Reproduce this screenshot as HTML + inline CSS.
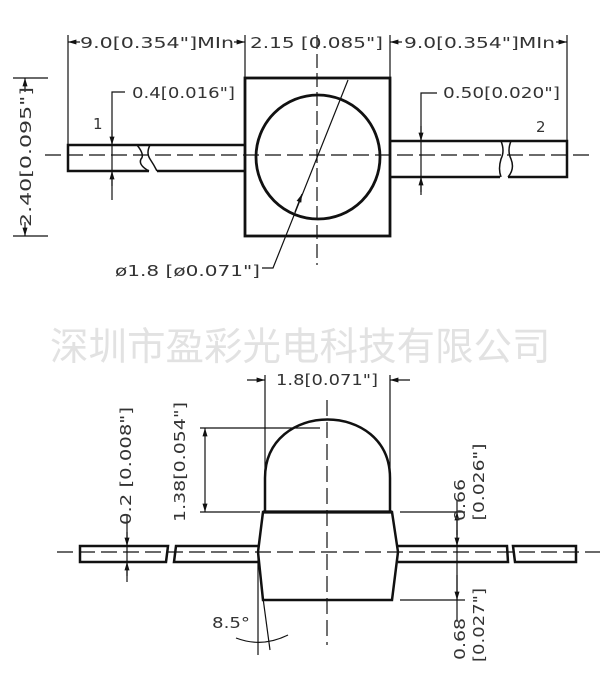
<!DOCTYPE html>
<html><head><meta charset="utf-8"><style>
html,body{margin:0;padding:0;background:#fff;width:604px;height:677px;overflow:hidden}
svg{display:block}
text{font-family:"DejaVu Sans","Liberation Sans",sans-serif;fill:#333}
</style></head><body>
<svg width="604" height="677" viewBox="0 0 604 677" xmlns="http://www.w3.org/2000/svg">
<defs>
<marker id="a" viewBox="0 0 10 10" refX="10" refY="5" markerWidth="7" markerHeight="7" orient="auto-start-reverse"><path d="M0,2 L10,5 L0,8 z" fill="#111"/></marker>
</defs>
<g stroke="#111" fill="none">
<line x1="45" y1="155" x2="590" y2="155" stroke-width="1.2" stroke-dasharray="16,6"/>
<line x1="317" y1="35" x2="317" y2="265" stroke-width="1.2" stroke-dasharray="14,5"/>
<rect x="245" y="78" width="145" height="158" stroke-width="2.8"/>
<circle cx="318" cy="157" r="62" stroke-width="2.8"/>
<path d="M245,145 H68 V171 H149 M157,171 H245" stroke-width="2.5"/>
<path d="M137,145 q8,10 4,14 q-3,6 8,12 M150,145 q-4,8 0,14 q4,6 7,12" stroke-width="1.5"/>
<path d="M390,141 H567 V177 H508 M500,177 H390" stroke-width="2.5"/>
<path d="M501,141 q4,10 0,18 q-3,10 0,18 M511,141 q-4,10 0,18 q4,10 -3,18" stroke-width="1.5"/>
<line x1="68" y1="35" x2="68" y2="145" stroke-width="1.2"/>
<line x1="567" y1="35" x2="567" y2="141" stroke-width="1.2"/>
<line x1="245" y1="35" x2="245" y2="78" stroke-width="1.2"/>
<line x1="390" y1="35" x2="390" y2="78" stroke-width="1.2"/>
<line x1="68" y1="42" x2="80" y2="42" stroke-width="1.2" marker-start="url(#a)"/>
<line x1="234" y1="42" x2="245" y2="42" stroke-width="1.2" marker-end="url(#a)"/>
<line x1="390" y1="42" x2="402" y2="42" stroke-width="1.2" marker-start="url(#a)"/>
<line x1="556" y1="42" x2="567" y2="42" stroke-width="1.2" marker-end="url(#a)"/>
<line x1="13" y1="78" x2="48" y2="78" stroke-width="1.2"/>
<line x1="13" y1="236" x2="48" y2="236" stroke-width="1.2"/>
<line x1="25" y1="92" x2="25" y2="78" stroke-width="1.2" marker-end="url(#a)"/>
<line x1="25" y1="222" x2="25" y2="236" stroke-width="1.2" marker-end="url(#a)"/>
<path d="M112,200 V92 H125" stroke-width="1.2"/>
<line x1="112" y1="130" x2="112" y2="145" stroke-width="1.2" marker-end="url(#a)"/>
<line x1="112" y1="186" x2="112" y2="171" stroke-width="1.2" marker-end="url(#a)"/>
<path d="M421,195 V93 H437" stroke-width="1.2"/>
<line x1="421" y1="126" x2="421" y2="141" stroke-width="1.2" marker-end="url(#a)"/>
<line x1="421" y1="192" x2="421" y2="177" stroke-width="1.2" marker-end="url(#a)"/>
<path d="M348,80 L273,268 H262" stroke-width="1.2"/>
<line x1="302" y1="194" x2="295" y2="212" stroke-width="1.2" marker-start="url(#a)"/>

<line x1="57" y1="552" x2="600" y2="552" stroke-width="1.2" stroke-dasharray="16,6"/>
<line x1="327" y1="400" x2="327" y2="645" stroke-width="1.2" stroke-dasharray="16,6"/>
<path d="M265,512 V478 C265,400 390,400 390,478 V512" stroke-width="2.5"/>
<path d="M263,512 H392 L398,552 L392,600 H263 L258,552 Z" stroke-width="2.5"/>
<line x1="263" y1="512" x2="392" y2="512" stroke-width="3.2"/>
<path d="M258,546 H176 L174,562 H258 M168,546 H80 V562 H166 Z" stroke-width="2.5"/>
<path d="M398,546 H507 L508,562 H398 M513,546 H576 V562 H515 Z" stroke-width="2.5"/>
<line x1="265" y1="375" x2="265" y2="512" stroke-width="1.2"/>
<line x1="390" y1="375" x2="390" y2="512" stroke-width="1.2"/>
<line x1="247" y1="380" x2="265" y2="380" stroke-width="1.2" marker-end="url(#a)"/>
<line x1="410" y1="380" x2="390" y2="380" stroke-width="1.2" marker-end="url(#a)"/>
<line x1="200" y1="428" x2="320" y2="428" stroke-width="1.2"/>
<line x1="200" y1="512" x2="260" y2="512" stroke-width="1.2"/>
<line x1="205" y1="445" x2="205" y2="428" stroke-width="1.2" marker-end="url(#a)"/>
<line x1="205" y1="495" x2="205" y2="512" stroke-width="1.2" marker-end="url(#a)"/>
<line x1="205" y1="445" x2="205" y2="495" stroke-width="1.2"/>
<line x1="127" y1="515" x2="127" y2="582" stroke-width="1.2"/>
<line x1="127" y1="532" x2="127" y2="546" stroke-width="1.2" marker-end="url(#a)"/>
<line x1="127" y1="576" x2="127" y2="562" stroke-width="1.2" marker-end="url(#a)"/>
<line x1="400" y1="512" x2="465" y2="512" stroke-width="1.2"/>
<line x1="400" y1="600" x2="465" y2="600" stroke-width="1.2"/>
<line x1="457" y1="500" x2="457" y2="620" stroke-width="1.2"/>
<line x1="457" y1="530" x2="457" y2="546" stroke-width="1.2" marker-end="url(#a)"/>
<line x1="457" y1="535" x2="457" y2="512" stroke-width="1.2" marker-end="url(#a)"/>
<line x1="457" y1="575" x2="457" y2="600" stroke-width="1.2" marker-end="url(#a)"/>
<line x1="258" y1="552" x2="258" y2="655" stroke-width="1.2"/>
<line x1="263" y1="598" x2="270" y2="650" stroke-width="1.2"/>
<path d="M236,638 Q262,648 288,635" stroke-width="1.2"/>
</g>
<g font-size="15">
<text x="80" y="48" textLength="154" lengthAdjust="spacingAndGlyphs">9.0[0.354"]MIn</text>
<text x="250" y="48" textLength="133" lengthAdjust="spacingAndGlyphs">2.15  [0.085"]</text>
<text x="404" y="48" textLength="151" lengthAdjust="spacingAndGlyphs">9.0[0.354"]MIn</text>
<text x="132" y="98" textLength="103" lengthAdjust="spacingAndGlyphs">0.4[0.016"]</text>
<text x="443" y="98" textLength="117" lengthAdjust="spacingAndGlyphs">0.50[0.020"]</text>
<text x="93" y="129">1</text>
<text x="536" y="132">2</text>
<text x="115" y="276" textLength="145" lengthAdjust="spacingAndGlyphs">ø1.8  [ø0.071"]</text>
<text transform="translate(31,157) rotate(-90)" text-anchor="middle" textLength="140" lengthAdjust="spacingAndGlyphs">2.40[0.095"]</text>
<text x="50" y="360" font-family="'Liberation Sans','Noto Sans CJK SC',sans-serif" font-size="38.5" style="fill:#e2e2e2">深圳市盈彩光电科技有限公司</text>
<text x="276" y="385" textLength="102" lengthAdjust="spacingAndGlyphs">1.8[0.071"]</text>
<text transform="translate(185,462) rotate(-90)" text-anchor="middle" textLength="120" lengthAdjust="spacingAndGlyphs">1.38[0.054"]</text>
<text transform="translate(131,466) rotate(-90)" text-anchor="middle" textLength="118" lengthAdjust="spacingAndGlyphs">0.2  [0.008"]</text>
<text transform="translate(465,500) rotate(-90)" text-anchor="middle" textLength="42" lengthAdjust="spacingAndGlyphs">0.66</text>
<text transform="translate(484,482) rotate(-90)" text-anchor="middle" textLength="77" lengthAdjust="spacingAndGlyphs">[0.026"]</text>
<text transform="translate(465,639) rotate(-90)" text-anchor="middle" textLength="42" lengthAdjust="spacingAndGlyphs">0.68</text>
<text transform="translate(484,625) rotate(-90)" text-anchor="middle" textLength="74" lengthAdjust="spacingAndGlyphs">[0.027"]</text>
<text x="212" y="628" textLength="38" lengthAdjust="spacingAndGlyphs">8.5°</text>
</g>
</svg>
</body></html>
